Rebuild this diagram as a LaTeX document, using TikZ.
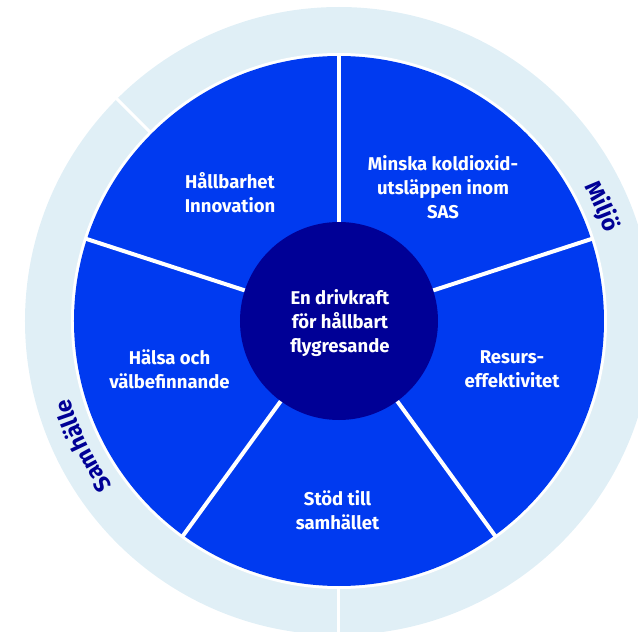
\documentclass[tikz,border=0pt]{standalone}
\usepackage{fontspec}
\setmainfont{Fira Sans}
\usetikzlibrary{decorations.text}

\definecolor{segblue}{RGB}{0,58,240}
\definecolor{hubnavy}{RGB}{0,0,150}
\definecolor{ringpale}{RGB}{224,239,246}
\newcommand{\ringfont}{\bfseries\fontsize{23}{23}\selectfont}

\begin{document}
\begin{tikzpicture}[x=1pt,y=1pt]
\useasboundingbox (-339,-311) rectangle (299,321);

% outer ring and wheel
\fill[ringpale] (0,0) circle (314);
\fill[white] (0,0) circle (268);
\fill[segblue] (0,0) circle (265);
\draw[white, line width=3] (135:266) -- (135:316);
\draw[white, line width=3] (270:266) -- (270:316);

\node[circle, fill=hubnavy, minimum size=198, inner sep=0] (hub) at (0,0) {};
\foreach \a in {90,18,-54,-126,162}
    \draw[white, line width=4] (hub.\a) -- (\a:266);

\begin{scope}[every node/.style={align=center, text=white,
        font=\bfseries\fontsize{18.5}{24}\selectfont}]
    \node (drive) at (1,-2) {En drivkraft\\för hållbart\\flygresande};
    \node (innov) at (-109,128.5) {Hållbarhet\\Innovation};
    \node (co2) at (104,133.6) {Minska koldioxid-\\utsläppen inom\\SAS};
    \node (resurs) at (173,-48) {Resurs-\\effektivitet};
    \node (stod) at (-1.5,-189) {Stöd till\\samhället};
    \node (halsa) at (-169.5,-48) {Hälsa och\\välbefinnande};
\end{scope}

% ring labels
{\ringfont
\path[decorate, decoration={text along path, text align=center,
        text color=hubnavy, text={Samhälle}}]
    (232:280) arc[start angle=232, end angle=180, radius=280];
\path[decorate, decoration={text along path, text align=center,
        text color=hubnavy, text={Miljö}}]
    (47:280) arc[start angle=47, end angle=0, radius=280];
}
\end{tikzpicture}
\end{document}
